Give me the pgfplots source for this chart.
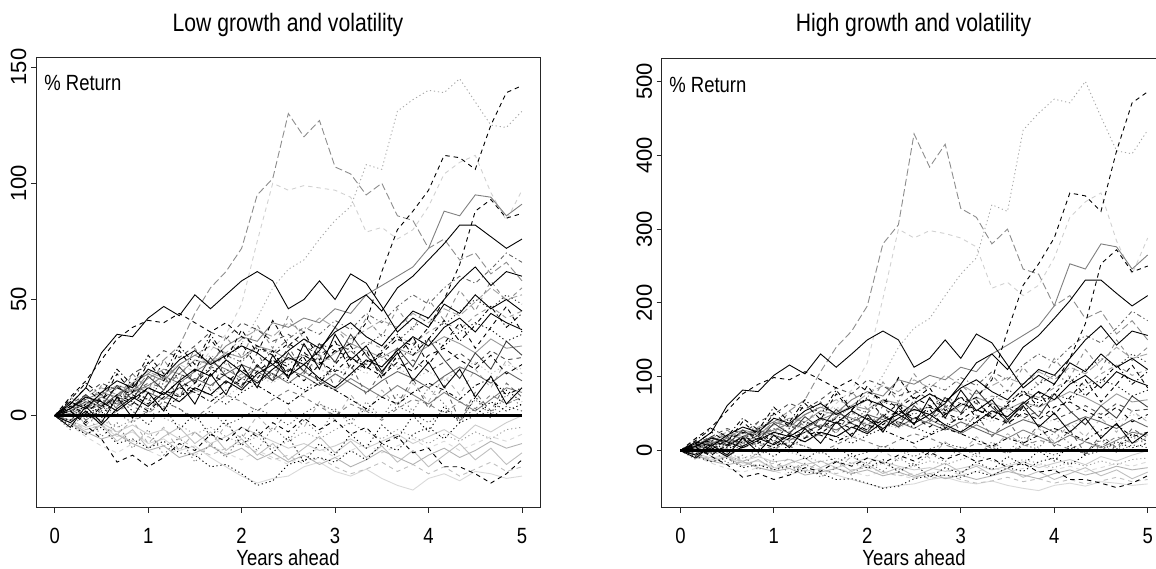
\documentclass[border=0pt]{standalone}
\usepackage{fontspec}
\setmainfont{Liberation Sans}[FakeStretch=0.84]
\newfontfamily\ylabfont{Liberation Sans}
\usepackage{pgfplots}
\usepackage{pgfplotstable}
\pgfplotsset{compat=1.18}

% rows = simulated paths, columns = years ahead
\pgfplotstableread{
name 0 0.167 0.333 0.5 0.667 0.833 1 1.167 1.333 1.5 1.667 1.833 2 2.167 2.333 2.5 2.667 2.833 3 3.167 3.333 3.5 3.667 3.833 4 4.167 4.333 4.5 4.667 4.833 5
p1 0 3 8 5 12 10 18 24 30 44 55 62 72 95 102 130 120 127 107 104 95 100 86 84 72 76 67 70 61 66 58
p2 0 -2 4 8 6 12 10 16 13 20 26 22 31 42 55 63 67 76 84 90 108 106 131 136 140 139 145 135 125 124 131
p3 0 2 -3 4 8 5 12 9 15 11 18 14 20 16 24 19 26 22 28 31 40 62 80 88 97 112 111 106 125 139 142
p4 0 5 12 27 35 34 42 47 43 52 46 52 58 62 58 46 50 58 50 61 57 47 36 42 38 48 44 52 46 50 45
p5 0 -3 2 -4 3 8 4 10 6 12 9 15 11 18 22 17 22 28 38 48 52 45 55 60 67 74 82 82 77 72 76
p6 0 2 6 3 9 14 11 18 22 19 28 35 48 75 100 97 99 98 97 94 79 81 76 80 90 104 109 112 96 84 97
p7 0 3 7 10 8 14 18 15 22 26 23 30 34 32 40 38 42 40 46 44 52 56 60 64 72 88 86 95 94 86 91
p8 0 4 1 7 12 9 5 11 8 14 20 17 13 19 24 21 15 22 28 25 20 27 33 30 38 50 65 88 93 85 87
p9 0 -4 -8 -5 -12 -10 -14 -11 -16 -17 -22 -21 -25 -30 -28 -21 -19 -18 -20 -15 -19 -12 -15 -8 -5 -10 -3 0 6 2 5
p10 0 -3 -6 -4 -9 -7 -12 -10 -15 -13 -18 -22 -26 -29 -27 -26 -22 -20 -24 -26 -23 -27 -30 -32 -27 -25 -28 -24 -25 -27 -26
p11 0 2 -4 -10 -20 -17 -22 -18 -12 -15 -8 -11 -5 -9 -3 -7 -1 -6 -2 -8 -5 -12 -9 -16 -14 -22 -22 -25 -29 -25 -19
p12 0 6 3 10 15 12 20 17 24 28 22 26 30 27 22 28 33 29 36 40 34 30 38 45 42 50 58 64 56 62 60
p13 0 -2 3 7 4 10 14 12 18 15 21 26 23 30 27 33 38 35 41 37 44 40 47 52 48 55 60 57 63 70 66
p14 0 3 8 6 2 7 12 9 15 20 17 24 19 14 20 25 22 16 12 18 24 21 28 34 30 38 42 36 44 40 37
p15 0 2 5 9 13 11 16 20 18 24 22 27 25 30 28 24 26 22 27 31 28 25 29 26 30 34 31 27 33 29 30
p16 0 5 9 14 11 18 22 28 25 30 36 33 40 37 32 35 30 26 31 28 22 26 20 24 19 23 27 22 28 24 25
p17 0 -3 1 -2 4 8 5 11 9 14 12 8 13 17 14 19 23 20 17 22 18 24 21 16 19 15 20 23 18 22 20
p18 0 4 7 3 9 6 2 8 12 10 6 11 16 13 9 5 10 14 11 7 3 8 5 10 14 11 7 13 16 9 12
p19 0 2 -2 3 7 4 1 6 3 -1 4 9 6 2 7 11 8 4 0 5 2 -2 3 7 5 1 6 3 9 5 8
p20 0 -2 -5 -3 -7 -4 -8 -6 -10 -7 -12 -9 -5 -8 -11 -14 -12 -15 -13 -10 -14 -11 -8 -12 -9 -6 -10 -4 -7 -3 0
p21 0 3 1 -2 -5 -2 2 -1 -4 -8 -5 -9 -12 -9 -14 -11 -7 -10 -6 -3 -7 -10 -6 -9 -12 -8 -11 -7 -10 -6 -5
p22 0 -3 -7 -10 -8 -12 -15 -13 -18 -16 -13 -17 -14 -19 -16 -20 -17 -21 -18 -22 -19 -15 -18 -21 -17 -14 -18 -15 -11 -14 -12
p23 0 3 6 2 8 11 9 14 18 15 21 19 24 29 26 22 27 31 28 24 30 35 32 38 42 39 45 50 46 52 48
p24 0 8 15 24 33 38 41 40 44 40 36 40 34 30 26 31 27 23 19 25 21 17 23 19 26 29 24 20 26 18 22
p25 0 2 6 4 9 13 10 7 12 16 13 18 22 19 15 20 17 13 18 14 10 15 19 16 12 17 21 18 14 19 15
p26 0 -4 -9 -13 -16 -12 -15 -18 -14 -17 -13 -16 -19 -15 -18 -21 -17 -14 -18 -15 -12 -16 -13 -10 -14 -11 -15 -12 -9 -11 -8
p27 0 3 -1 4 1 -3 2 6 3 -2 2 -4 -1 3 0 -4 1 5 2 -2 3 -1 4 1 -3 2 -2 3 -1 4 2
p28 0 4 8 12 9 15 19 16 22 26 30 27 33 37 34 40 36 42 38 33 37 41 38 44 40 46 43 49 55 50 52
p29 0 -2 -6 -4 -8 -11 -9 -13 -10 -14 -17 -14 -12 -16 -19 -17 -21 -18 -22 -25 -23 -20 -24 -21 -25 -22 -26 -23 -20 -24 -22
p30 0 2 5 1 6 10 7 3 8 12 9 5 10 14 18 15 11 16 20 17 23 27 24 29 33 30 36 40 37 32 35
p31 0 1 4 8 5 10 13 17 14 19 23 20 16 21 18 14 19 15 11 16 12 8 13 9 5 10 6 2 7 12 10
p32 0 -2 1 -3 2 5 3 8 6 11 9 14 18 15 20 17 22 26 23 28 32 29 34 31 36 40 37 43 47 42 45
p33 0 6 -2 9 3 14 6 17 8 20 11 24 13 27 16 30 18 26 12 22 9 19 5 16 3 13 -2 10 2 14 8
p34 0 -5 4 -3 8 -1 10 2 14 5 18 9 22 12 26 16 31 20 35 24 30 19 27 15 23 12 20 8 17 5 12
p35 0 4 -4 2 -8 -2 -12 -5 -15 -7 -13 -4 -10 0 -7 3 -5 6 -2 9 1 11 4 14 6 17 9 20 12 24 18
p36 0 7 14 9 20 13 26 18 30 22 35 25 31 21 28 17 25 14 22 30 20 28 35 26 33 41 32 39 47 38 44
p37 0 -6 2 -9 -3 -14 -6 -17 -9 -20 -12 -18 -8 -15 -5 -11 -2 -8 3 -4 6 -1 9 2 12 5 -2 7 0 9 4
p38 0 5 12 6 18 10 23 15 28 19 33 24 37 27 41 30 36 24 32 20 28 16 26 34 22 31 40 29 38 47 36
p39 0 -3 -8 -4 -11 -6 -14 -9 -5 -12 -7 -15 -10 -17 -12 -19 -14 -9 -16 -11 -18 -13 -20 -15 -22 -17 -12 -19 -14 -21 -16
p40 0 3 9 4 13 7 17 11 21 14 25 17 12 22 15 27 19 31 23 35 26 18 29 21 33 24 16 27 20 32 26
p41 0 -2 5 -1 8 2 -4 4 -6 1 -9 -2 -13 -6 -16 -9 -20 -12 -17 -8 -14 -4 -10 0 -7 4 -3 8 1 11 6
p42 0 8 3 13 6 18 11 24 15 29 20 34 25 39 29 43 33 27 38 30 42 34 46 37 50 41 54 45 58 49 55
}\rawL

\pgfplotstableread{
name 0 0.167 0.333 0.5 0.667 0.833 1 1.167 1.333 1.5 1.667 1.833 2 2.167 2.333 2.5 2.667 2.833 3 3.167 3.333 3.5 3.667 3.833 4 4.167 4.333 4.5 4.667 4.833 5
p1 0 6 17 10 25 21 39 54 69 107 140 162 196 280 306 429 384 415 328 316 280 300 246 239 196 210 179 189 158 176 150
p2 0 -4 8 17 12 25 21 35 28 44 59 49 72 102 140 166 179 210 239 261 333 324 434 457 476 471 500 452 406 402 434
p3 0 4 -6 8 17 10 25 19 32 23 39 30 44 35 54 42 59 49 64 72 96 162 224 253 288 349 345 324 406 471 486
p4 0 10 25 61 82 80 102 116 104 131 113 131 150 162 150 113 125 150 125 158 146 116 85 102 90 119 107 131 113 125 110
p5 0 -6 4 -8 6 17 8 21 12 25 19 32 23 39 49 37 49 64 90 119 131 110 140 156 179 203 231 231 213 196 210
p6 0 4 12 6 19 30 23 39 49 42 64 82 119 206 300 288 298 294 288 276 220 228 210 224 261 316 337 349 284 239 288
p7 0 6 14 21 17 30 39 32 49 59 51 69 80 74 96 90 102 96 113 107 131 143 156 169 196 253 246 280 276 246 265
p8 0 8 2 14 25 19 10 23 17 30 44 37 28 42 54 46 32 49 64 56 44 61 77 69 90 125 172 253 272 242 250
p9 0 -8 -15 -10 -23 -19 -26 -21 -29 -31 -39 -38 -44 -51 -48 -38 -34 -33 -36 -28 -34 -23 -28 -15 -10 -19 -6 0 12 4 10
p10 0 -6 -12 -8 -17 -14 -23 -19 -28 -24 -33 -39 -45 -50 -47 -45 -39 -36 -42 -45 -41 -47 -51 -54 -47 -44 -48 -42 -44 -47 -45
p11 0 4 -8 -19 -36 -31 -39 -33 -23 -28 -15 -21 -10 -17 -6 -14 -2 -12 -4 -15 -10 -23 -17 -29 -26 -39 -39 -44 -50 -44 -34
p12 0 12 6 21 32 25 44 37 54 64 49 59 69 61 49 64 77 66 85 96 80 69 90 110 102 125 150 169 143 162 156
p13 0 -4 6 14 8 21 30 25 39 32 46 59 51 69 61 77 90 82 99 88 107 96 116 131 119 140 156 146 166 189 176
p14 0 6 17 12 4 14 25 19 32 44 37 54 42 30 44 56 49 35 25 39 54 46 64 80 69 90 102 85 107 96 88
p15 0 4 10 19 28 23 35 44 39 54 49 61 56 69 64 54 59 49 61 72 64 56 66 59 69 80 72 61 77 66 69
p16 0 10 19 30 23 39 49 64 56 69 85 77 96 88 74 82 69 59 72 64 49 59 44 54 42 51 61 49 64 54 56
p17 0 -6 2 -4 8 17 10 23 19 30 25 17 28 37 30 42 51 44 37 49 39 54 46 35 42 32 44 51 39 49 44
p18 0 8 14 6 19 12 4 17 25 21 12 23 35 28 19 10 21 30 23 14 6 17 10 21 30 23 14 28 35 19 25
p19 0 4 -4 6 14 8 2 12 6 -2 8 19 12 4 14 23 17 8 0 10 4 -4 6 14 10 2 12 6 19 10 17
p20 0 -4 -10 -6 -14 -8 -15 -12 -19 -14 -23 -17 -10 -15 -21 -26 -23 -28 -24 -19 -26 -21 -15 -23 -17 -12 -19 -8 -14 -6 0
p21 0 6 2 -4 -10 -4 4 -2 -8 -15 -10 -17 -23 -17 -26 -21 -14 -19 -12 -6 -14 -19 -12 -17 -23 -15 -21 -14 -19 -12 -10
p22 0 -6 -14 -19 -15 -23 -28 -24 -33 -29 -24 -31 -26 -34 -29 -36 -31 -38 -33 -39 -34 -28 -33 -38 -31 -26 -33 -28 -21 -26 -23
p23 0 6 12 4 17 23 19 30 39 32 46 42 54 66 59 49 61 72 64 54 69 82 74 90 102 93 110 125 113 131 119
p24 0 17 32 54 77 90 99 96 107 96 85 96 80 69 59 72 61 51 42 56 46 37 51 42 59 66 54 44 59 39 49
p25 0 4 12 8 19 28 21 14 25 35 28 39 49 42 32 44 37 28 39 30 21 32 42 35 25 37 46 39 30 42 32
p26 0 -8 -17 -24 -29 -23 -28 -33 -26 -31 -24 -29 -34 -28 -33 -38 -31 -26 -33 -28 -23 -29 -24 -19 -26 -21 -28 -23 -17 -21 -15
p27 0 6 -2 8 2 -6 4 12 6 -4 4 -8 -2 6 0 -8 2 10 4 -4 6 -2 8 2 -6 4 -4 6 -2 8 4
p28 0 8 17 25 19 32 42 35 49 59 69 61 77 88 80 96 85 102 90 77 88 99 90 107 96 113 104 122 140 125 131
p29 0 -4 -12 -8 -15 -21 -17 -24 -19 -26 -31 -26 -23 -29 -34 -31 -38 -33 -39 -44 -41 -36 -42 -38 -44 -39 -45 -41 -36 -42 -39
p30 0 4 10 2 12 21 14 6 17 25 19 10 21 30 39 32 23 35 44 37 51 61 54 66 77 69 85 96 88 74 82
p31 0 2 8 17 10 21 28 37 30 42 51 44 35 46 39 30 42 32 23 35 25 17 28 19 10 21 12 4 14 25 21
p32 0 -4 2 -6 4 10 6 17 12 23 19 30 39 32 44 37 49 59 51 64 74 66 80 72 85 96 88 104 116 102 110
p33 0 12 -4 19 6 30 12 37 17 44 23 54 28 61 35 69 39 59 25 49 19 42 10 35 6 28 -4 21 4 30 17
p34 0 -10 8 -6 17 -2 21 4 30 10 39 19 49 25 59 35 72 44 82 54 69 42 61 32 51 25 44 17 37 10 25
p35 0 8 -8 4 -15 -4 -23 -10 -28 -14 -24 -8 -19 0 -14 6 -10 12 -4 19 2 23 8 30 12 37 19 44 25 54 39
p36 0 14 30 19 44 28 59 39 69 49 82 56 72 46 64 37 56 30 49 69 44 64 82 59 77 99 74 93 116 90 107
p37 0 -12 4 -17 -6 -26 -12 -31 -17 -36 -23 -33 -15 -28 -10 -21 -4 -15 6 -8 12 -2 19 4 25 10 -4 14 0 19 8
p38 0 10 25 12 39 21 51 32 64 42 77 54 88 61 99 69 85 54 74 44 64 35 59 80 49 72 96 66 90 116 85
p39 0 -6 -15 -8 -21 -12 -26 -17 -10 -23 -14 -28 -19 -31 -23 -34 -26 -17 -29 -21 -33 -24 -36 -28 -39 -31 -23 -34 -26 -38 -29
p40 0 6 19 8 28 14 37 23 46 30 56 37 25 49 32 61 42 72 51 82 59 39 66 46 77 54 35 61 44 74 59
p41 0 -4 10 -2 17 4 -8 8 -12 2 -17 -4 -24 -12 -29 -17 -36 -23 -31 -15 -26 -8 -19 0 -14 8 -6 17 2 23 12
p42 0 17 6 28 12 39 23 54 32 66 44 80 56 93 66 104 77 61 90 69 102 80 113 88 125 99 137 110 150 122 140
}\rawR

\pgfplotstabletranspose[colnames from=name]\TL\rawL
\pgfplotstabletranspose[colnames from=name]\TR\rawR

\tikzset{
  sol/.style={solid},
  dsh/.style={dash pattern=on 2.2bp off 2bp},
  dot/.style={dash pattern=on 0.6bp off 1.4bp},
  dd/.style={dash pattern=on 0.6bp off 1.4bp on 2.2bp off 1.4bp},
  ld/.style={dash pattern=on 3.6bp off 1.6bp},
}

\pgfplotsset{base/.style={
  anchor=south west, scale only axis, width=252.35bp, height=224.85bp,
  xmin=-0.2, xmax=5.2, xtick={0,1,2,3,4,5},
  tick pos=left, tick align=outside, major tick length=2.6bp,
  axis line style={black!85, line width=0.5bp},
  tick style={black!85, line width=0.5bp},
  every axis plot/.append style={line width=0.45bp},
  no markers,
  /pgf/number format/assume math mode=true,
  xticklabel style={font=\fontsize{11bp}{13bp}\selectfont, anchor=north, inner sep=0pt, yshift=-7.4bp},
  yticklabel style={font=\ylabfont\fontsize{11bp}{13bp}\selectfont, rotate=90, anchor=south, inner sep=2bp},
}}

\newcommand{\drawpaths}[1]{%
\addplot[black!15,sol] table[x=colnames,y=p10]{#1};
\addplot[black!20,sol] table[x=colnames,y=p20]{#1};
\addplot[black!15,dsh] table[x=colnames,y=p26]{#1};
\addplot[black!25,dot] table[x=colnames,y=p17]{#1};
\addplot[black!25,dsh] table[x=colnames,y=p29]{#1};
\addplot[black!25,sol] table[x=colnames,y=p39]{#1};
\addplot[black!30,sol] table[x=colnames,y=p22]{#1};
\addplot[black!30,dsh] table[x=colnames,y=p35]{#1};
\addplot[black!18,dsh] table[x=colnames,y=p6]{#1};
\addplot[black!35,dot] table[x=colnames,y=p2]{#1};
\addplot[black!35,ld] table[x=colnames,y=p28]{#1};
\addplot[black!40,dot] table[x=colnames,y=p21]{#1};
\addplot[black!40,sol] table[x=colnames,y=p15]{#1};
\addplot[black!40,dsh] table[x=colnames,y=p32]{#1};
\addplot[black!45,ld] table[x=colnames,y=p1]{#1};
\addplot[black!45,dsh] table[x=colnames,y=p42]{#1};
\addplot[black!50,sol] table[x=colnames,y=p7]{#1};
\addplot[black!50,dsh] table[x=colnames,y=p19]{#1};
\addplot[black!50,sol] table[x=colnames,y=p31]{#1};
\addplot[black!55,dot] table[x=colnames,y=p37]{#1};
\addplot[black!60,sol] table[x=colnames,y=p25]{#1};
\addplot[black!60,dd] table[x=colnames,y=p13]{#1};
\addplot[black!60,dsh] table[x=colnames,y=p33]{#1};
\addplot[black!70,dot] table[x=colnames,y=p27]{#1};
\addplot[black!70,dsh] table[x=colnames,y=p16]{#1};
\addplot[black!75,sol] table[x=colnames,y=p40]{#1};
\addplot[black!80,dot] table[x=colnames,y=p23]{#1};
\addplot[black,dsh] table[x=colnames,y=p3]{#1};
\addplot[black,sol] table[x=colnames,y=p4]{#1};
\addplot[black,sol] table[x=colnames,y=p5]{#1};
\addplot[black,dsh] table[x=colnames,y=p8]{#1};
\addplot[black,dot] table[x=colnames,y=p9]{#1};
\addplot[black,dsh] table[x=colnames,y=p11]{#1};
\addplot[black,sol] table[x=colnames,y=p12]{#1};
\addplot[black,sol] table[x=colnames,y=p14]{#1};
\addplot[black,dd] table[x=colnames,y=p18]{#1};
\addplot[black,dsh] table[x=colnames,y=p24]{#1};
\addplot[black,dot] table[x=colnames,y=p30]{#1};
\addplot[black,sol] table[x=colnames,y=p34]{#1};
\addplot[black,dd] table[x=colnames,y=p36]{#1};
\addplot[black,dsh] table[x=colnames,y=p38]{#1};
\addplot[black,dot] table[x=colnames,y=p41]{#1};
\addplot[black, solid, line width=1.2bp] coordinates {(0,0) (5,0)};
}

\begin{document}
\begin{tikzpicture}
\begin{axis}[base, at={(18bp,30.65bp)}, ymin=-39.6, ymax=153.9, ytick={0,50,100,150}]
\drawpaths{\TL}
\end{axis}
\begin{axis}[base, at={(330.85bp,30.65bp)}, ymin=-77.2, ymax=531.7, ytick={0,100,200,300,400,500}]
\drawpaths{\TR}
\end{axis}
\node[font=\fontsize{12.6bp}{15bp}\selectfont, anchor=base] at (144bp,268.6bp) {Low growth and volatility};
\node[font=\fontsize{12.6bp}{15bp}\selectfont, anchor=base] at (456.75bp,268.6bp) {High growth and volatility};
\node[font=\fontsize{11bp}{13bp}\selectfont, anchor=base west, inner sep=0pt] at (22bp,239.2bp) {\% Return};
\node[font=\fontsize{11bp}{13bp}\selectfont, anchor=base west, inner sep=0pt] at (334.5bp,238bp) {\% Return};
\node[font=\fontsize{11bp}{13bp}\selectfont, anchor=base] at (144bp,1.8bp) {Years ahead};
\node[font=\fontsize{11bp}{13bp}\selectfont, anchor=base] at (457bp,1.8bp) {Years ahead};
\pgfresetboundingbox
\useasboundingbox (0,0) rectangle (578bp,284.5bp);
\end{tikzpicture}
\end{document}
